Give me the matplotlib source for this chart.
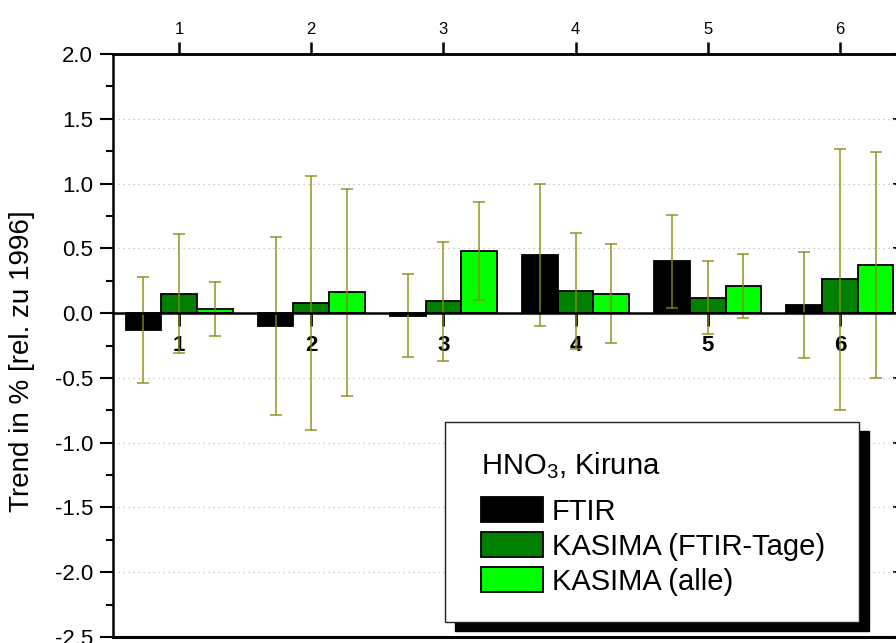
import matplotlib
matplotlib.use("Agg")
import matplotlib.pyplot as plt
import numpy as np
from matplotlib.patches import Rectangle

plt.rcParams['font.family'] = ['Liberation Sans', 'DejaVu Sans']
plt.rcParams['mathtext.fontset'] = 'custom'
plt.rcParams['mathtext.rm'] = 'Liberation Sans'
plt.rcParams['mathtext.it'] = 'Liberation Sans:italic'

# ---- data ----
categories = [1, 2, 3, 4, 5, 6]
series_names = ["FTIR", "KASIMA (FTIR-Tage)", "KASIMA (alle)"]
ftir = [-0.13, -0.10, -0.02, 0.45, 0.40, 0.06]
ftir_err = [0.41, 0.69, 0.32, 0.55, 0.36, 0.41]
kas_ftir = [0.15, 0.08, 0.09, 0.17, 0.12, 0.26]
kas_ftir_err = [0.46, 0.98, 0.46, 0.45, 0.28, 1.01]
kas_all = [0.03, 0.16, 0.48, 0.15, 0.21, 0.37]
kas_all_err = [0.21, 0.80, 0.38, 0.38, 0.25, 0.87]
y_ticks = [-2.5, -2.0, -1.5, -1.0, -0.5, 0.0, 0.5, 1.0, 1.5, 2.0]
y_tick_labels = ["-2.5", "-2.0", "-1.5", "-1.0", "-0.5", "0.0", "0.5", "1.0", "1.5", "2.0"]
legend_title = "HNO$_3$, Kiruna"
ylabel = "Trend in % [rel. zu 1996]"

colors = ["#000000", "#008000", "#00ff00"]
err_color = "#8a8a10"

W, H = 896, 643
fig = plt.figure(figsize=(W / 100, H / 100), dpi=100)

def fx(px):
    return px / W

def fy(py):
    return 1 - py / H

ax_left, ax_right, ax_top, ax_bottom = 113, 906, 54, 637
ax = fig.add_axes([fx(ax_left), fy(ax_bottom), fx(ax_right - ax_left), (ax_bottom - ax_top) / H])

x = np.array(categories, dtype=float)
bw = 0.27
series = [(ftir, ftir_err), (kas_ftir, kas_ftir_err), (kas_all, kas_all_err)]
for i, (vals, errs) in enumerate(series):
    xs = x + (i - 1) * bw
    ax.bar(xs, vals, width=bw, color=colors[i], edgecolor="black", linewidth=1.3, zorder=3)
for i, (vals, errs) in enumerate(series):
    xs = x + (i - 1) * bw
    ax.errorbar(xs, vals, yerr=errs, fmt="none", ecolor=err_color, elinewidth=1.2,
                capsize=4.3, capthick=1.2, zorder=4, alpha=0.85)

ax.set_xlim(0.5, 6.5)
ax.set_ylim(-2.5, 2.0)

# grid
for yv in [-2.0, -1.5, -1.0, -0.5, 0.5, 1.0, 1.5]:
    ax.axhline(yv, color="#bdbdbd", lw=0.9, ls=(0, (1, 3)), zorder=1)

# spines
for s in ["left", "right", "top"]:
    ax.spines[s].set_linewidth(1.8)
ax.spines["bottom"].set_position(("data", 0))
ax.spines["bottom"].set_linewidth(1.8)
ax.spines["bottom"].set_zorder(5)
ax.plot([0, 1], [0, 0], transform=ax.transAxes, color="black", lw=2.2, clip_on=False, zorder=6)

# y axis
ax.set_yticks(y_ticks)
ax.set_yticklabels(y_tick_labels)
ax.yaxis.set_minor_locator(matplotlib.ticker.MultipleLocator(0.25))
ax.tick_params(axis="y", which="major", direction="out", length=9.4, width=1.5,
               labelsize=16, pad=5)
ax.tick_params(axis="y", which="minor", direction="out", length=5, width=1.5)
ax.set_ylabel(ylabel, fontsize=20)
ax.yaxis.set_label_coords((35 - ax_left) / (ax_right - ax_left), (ax_bottom - 361) / (ax_bottom - ax_top))

# right axis ticks pointing inward
right = ax.secondary_yaxis("right")
right.set_yticks(y_ticks)
right.yaxis.set_minor_locator(matplotlib.ticker.MultipleLocator(0.25))
right.tick_params(which="major", direction="in", length=9.4, width=1.5, labelright=False)
right.tick_params(which="minor", direction="in", length=5, width=1.5, labelright=False)
right.spines["right"].set_linewidth(1.8)

# bottom x axis at zero, bold labels
ax.set_xticks(categories)
ax.set_xticklabels([str(c) for c in categories], fontweight="bold")
ax.tick_params(axis="x", which="major", direction="out", length=9, width=2,
               labelsize=16, pad=7)

# top x axis
top = ax.secondary_xaxis("top")
top.set_xticks(categories)
top.set_xticklabels([str(c) for c in categories])
top.tick_params(direction="out", length=8.5, width=1.8, labelsize=12, pad=4)
top.spines["top"].set_linewidth(1.8)

# legend (drawn manually with shadow)
bx0, by0, bx1, by1 = 445, 422, 859, 622
fig.patches.append(Rectangle((fx(bx0 + 10), fy(by1 + 9)), fx(bx1 - bx0), (by1 - by0) / H,
                             transform=fig.transFigure, facecolor="black", edgecolor="black",
                             zorder=10))
fig.patches.append(Rectangle((fx(bx0), fy(by1)), fx(bx1 - bx0), (by1 - by0) / H,
                             transform=fig.transFigure, facecolor="white", edgecolor="#222222",
                             lw=1.0, zorder=11))
fig.text(fx(481), fy(474), legend_title, fontsize=21, ha="left", va="baseline", zorder=12)
row_tops = [497, 532, 567]
for name, c, rt in zip(series_names, colors, row_tops):
    fig.patches.append(Rectangle((fx(481), fy(rt + 25)), fx(62), 25 / H,
                                 transform=fig.transFigure, facecolor=c, edgecolor="black",
                                 lw=1.3, zorder=12))
    fig.text(fx(552), fy(rt + 23), name, fontsize=21, ha="left", va="baseline", zorder=12)

fig.savefig("out.png", dpi=100)
